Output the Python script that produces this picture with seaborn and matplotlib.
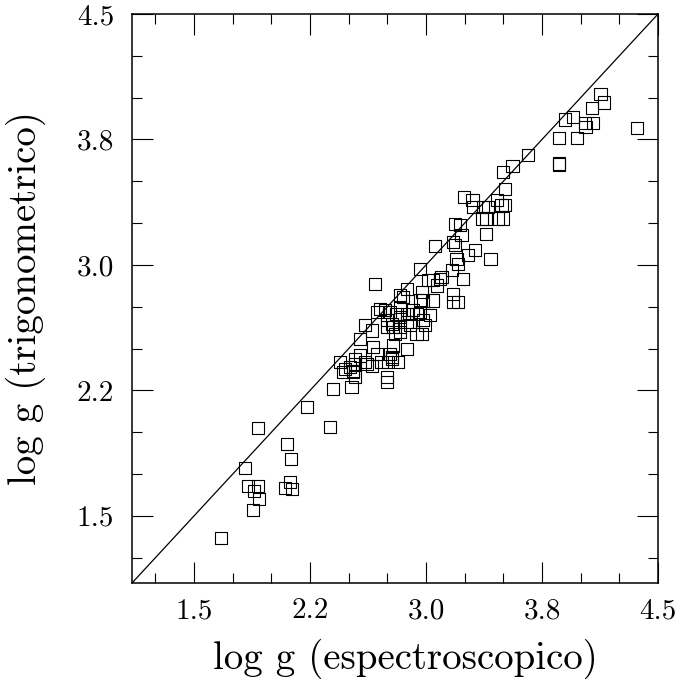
import matplotlib
matplotlib.use("Agg")
import matplotlib.pyplot as plt
import seaborn as sns
import pandas as pd
from matplotlib.ticker import MultipleLocator

# log g spectroscopic (x) and trigonometric (y)
logg_spec = [
    1.671, 1.829, 1.911, 1.850, 1.911, 1.889, 1.921, 1.880, 2.100, 2.128, 2.089, 2.119, 2.130,
    2.229, 2.378, 2.399,
    2.669, 2.960, 3.046, 3.089, 3.068, 3.013, 2.971, 2.960, 2.981, 3.046, 2.830, 2.852, 2.874,
    2.701, 2.734, 2.766, 2.680, 2.830, 2.809, 2.830, 2.874, 2.916, 2.938, 2.960, 2.604, 2.745,
    2.777, 2.745, 2.787, 2.830, 2.874, 2.895, 2.981, 2.992, 3.024, 2.648, 2.572, 2.798, 2.830,
    2.938, 2.971, 2.787, 2.766, 2.777, 2.658, 2.680, 2.874, 2.572, 2.604, 2.540, 2.443, 2.475,
    2.507, 2.529, 2.540, 2.615, 2.648, 2.712, 2.755, 2.777, 2.820, 2.464, 2.529, 2.540, 2.745,
    2.745, 2.518,
    3.057, 3.175, 3.186, 3.229, 3.386, 3.315, 3.417, 3.197, 3.207, 3.272, 3.165, 3.240, 3.100,
    3.175, 3.175, 3.207, 3.186, 3.218, 3.246, 3.300, 3.304, 3.369, 3.401, 3.456, 3.488, 3.509,
    3.359, 3.391, 3.466, 3.498, 3.509, 3.498, 3.559, 3.660, 3.860, 3.858, 4.128, 4.149, 4.076,
    3.897, 3.951, 4.026, 4.031, 4.080, 3.858, 3.977, 4.364,
]
logg_trig = [
    1.366, 1.787, 2.027, 1.678, 1.678, 1.648, 1.600, 1.536, 1.929, 1.837, 1.668, 1.702, 1.658,
    2.149, 2.029, 2.259,
    2.887, 2.977, 2.907, 2.917, 2.877, 2.907, 2.837, 2.787, 2.787, 2.787, 2.817, 2.807, 2.857,
    2.738, 2.728, 2.717, 2.717, 2.747, 2.708, 2.687, 2.708, 2.728, 2.708, 2.717, 2.638, 2.668,
    2.648, 2.628, 2.628, 2.628, 2.657, 2.638, 2.668, 2.638, 2.698, 2.608, 2.558, 2.588, 2.598,
    2.588, 2.588, 2.518, 2.468, 2.448, 2.508, 2.468, 2.498, 2.458, 2.418, 2.438, 2.418, 2.378,
    2.388, 2.368, 2.408, 2.408, 2.398, 2.418, 2.418, 2.438, 2.418, 2.358, 2.358, 2.328, 2.328,
    2.298, 2.268,
    3.111, 3.137, 3.117, 3.177, 3.183, 3.087, 3.037, 3.037, 3.007, 3.057, 2.967, 2.917, 2.927,
    2.828, 2.777, 2.777, 3.247, 3.237, 3.406, 3.390, 3.346, 3.346, 3.346, 3.386, 3.356, 3.356,
    3.277, 3.277, 3.277, 3.277, 3.456, 3.556, 3.590, 3.656, 3.606, 3.600, 4.021, 3.971, 3.939,
    3.869, 3.885, 3.849, 3.825, 3.849, 3.759, 3.759, 3.819,
]

tick_values = [1.5, 2.25, 3.0, 3.75, 4.5]
tick_labels = ["1.5", "2.2", "3.0", "3.8", "4.5"]
axis_limits = (1.1, 4.5)
x_label = "log g (espectroscopico)"
y_label = "log g (trigonometrico)"

df = pd.DataFrame({"spec": logg_spec, "trig": logg_trig})

sns.set_style("ticks")
plt.rcParams["font.family"] = ["cmr10", "DejaVu Serif"]
plt.rcParams["axes.formatter.use_mathtext"] = True

fig = plt.figure(figsize=(6.83, 6.82), dpi=100)
ax = fig.add_axes([0.1937, 0.1456, 0.9634 - 0.1937, 0.9795 - 0.1456])

sns.scatterplot(data=df, x="spec", y="trig", marker="s", s=76, linewidth=0.8,
                edgecolor="black", color="none", ax=ax, zorder=3)
pts = ax.collections[-1]
pts.set_facecolor("none")
pts.set_edgecolor("black")

ax.axline((axis_limits[0], axis_limits[0]), slope=1, color="black", lw=0.9, zorder=2)

ax.set_xlim(*axis_limits)
ax.set_ylim(*axis_limits)

ax.set_xticks(tick_values)
ax.set_xticklabels(tick_labels)
ax.set_yticks(tick_values)
ax.set_yticklabels(tick_labels)
ax.xaxis.set_minor_locator(MultipleLocator(0.25))
ax.yaxis.set_minor_locator(MultipleLocator(0.25))

ax.tick_params(which="both", direction="in", top=True, right=True, color="black",
               width=0.8, labelsize=21, labelcolor="black")
ax.tick_params(which="major", length=15)
ax.tick_params(which="minor", length=7.5)
ax.tick_params(axis="x", which="major", pad=11)
ax.tick_params(axis="y", which="major", pad=13)

for sp in ax.spines.values():
    sp.set_linewidth(1.1)
    sp.set_color("black")

ax.set_xlabel(x_label, fontsize=28, color="black")
ax.set_ylabel(y_label, fontsize=28, color="black")
ax.xaxis.set_label_coords(0.52, -0.098)
ax.yaxis.set_label_coords(-0.165, 0.5)

fig.savefig("out.png", dpi=100, facecolor="white")
